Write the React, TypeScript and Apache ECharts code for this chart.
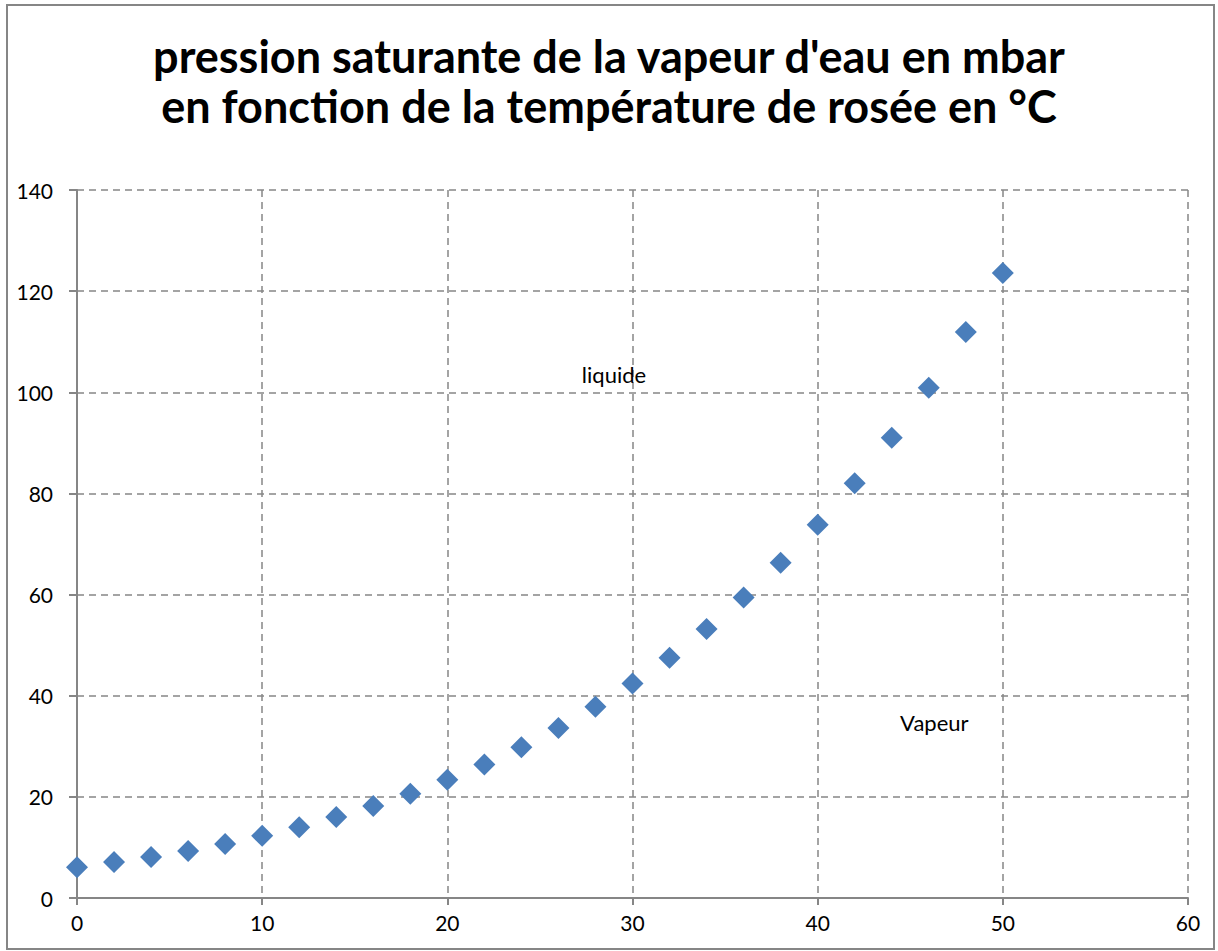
import React, { useEffect, useRef } from "react";
import * as echarts from "echarts";

const temperatures = [0, 2, 4, 6, 8, 10, 12, 14, 16, 18, 20, 22, 24, 26, 28, 30, 32, 34, 36, 38, 40, 42, 44, 46, 48, 50];
const pressures = [6.1, 7.1, 8.1, 9.3, 10.7, 12.3, 14.0, 16.0, 18.2, 20.6, 23.4, 26.4, 29.8, 33.6, 37.8, 42.4, 47.5, 53.2, 59.4, 66.3, 73.8, 82.0, 91.0, 100.9, 111.9, 123.6];
const titleLines = ["pression saturante de la vapeur d'eau en mbar", "en fonction de la température de rosée en °C"];
const annotations = [
  { text: "liquide", x: 29.0, y: 103.5 },
  { text: "Vapeur", x: 46.3, y: 34.8 },
];

export default function App() {
  const ref = useRef<HTMLDivElement>(null);
  useEffect(() => {
    if (!ref.current) return;
    const chart = echarts.init(ref.current, null, { renderer: "svg" });
    const font = "Lato, 'Open Sans', sans-serif";
    chart.setOption({
      animation: false,
      backgroundColor: "#ffffff",
      title: {
        text: titleLines.join("\n"),
        left: "center",
        top: 26,
        textStyle: { fontFamily: font, fontWeight: "bold", fontSize: 45, lineHeight: 50, color: "#000" },
      },
      graphic: [
        {
          type: "rect",
          shape: { x: 7, y: 5, width: 1207, height: 944 },
          style: { fill: "none", stroke: "#868686", lineWidth: 2 },
          silent: true,
        },
      ],
      grid: { left: 77, top: 190, width: 1111, height: 708, containLabel: false },
      xAxis: {
        type: "value",
        min: 0,
        max: 60,
        interval: 10,
        axisLine: { show: true, onZero: false, lineStyle: { color: "#868686", width: 2 } },
        axisTick: { show: true, length: 7, lineStyle: { color: "#868686", width: 2 } },
        axisLabel: { fontFamily: font, fontSize: 21, color: "#000", margin: 14 },
        splitLine: { show: true, lineStyle: { color: "#868686", width: 1.5, type: [7, 5] } },
      },
      yAxis: {
        type: "value",
        min: 0,
        max: 140,
        interval: 20,
        axisLine: { show: true, onZero: false, lineStyle: { color: "#868686", width: 2 } },
        axisTick: { show: true, length: 8, lineStyle: { color: "#868686", width: 2 } },
        axisLabel: { fontFamily: font, fontSize: 21, color: "#000", margin: 24 },
        splitLine: { show: true, lineStyle: { color: "#868686", width: 1.5, type: [7, 5] } },
      },
      series: [
        {
          type: "scatter",
          symbol: "diamond",
          symbolSize: 22,
          itemStyle: { color: "#4A7EBB", opacity: 1 },
          data: temperatures.map((t, i) => [t, pressures[i]]),
          markPoint: {
            symbol: "circle",
            symbolSize: 0,
            label: { show: true, fontFamily: font, fontSize: 22, color: "#000", position: "inside" },
            data: annotations.map((a) => ({ coord: [a.x, a.y], value: a.text, name: a.text })),
          },
        },
      ],
    });
    return () => chart.dispose();
  }, []);
  return <div ref={ref} style={{ position: "fixed", left: 0, top: 0, width: 1218, height: 951 }} />;
}
